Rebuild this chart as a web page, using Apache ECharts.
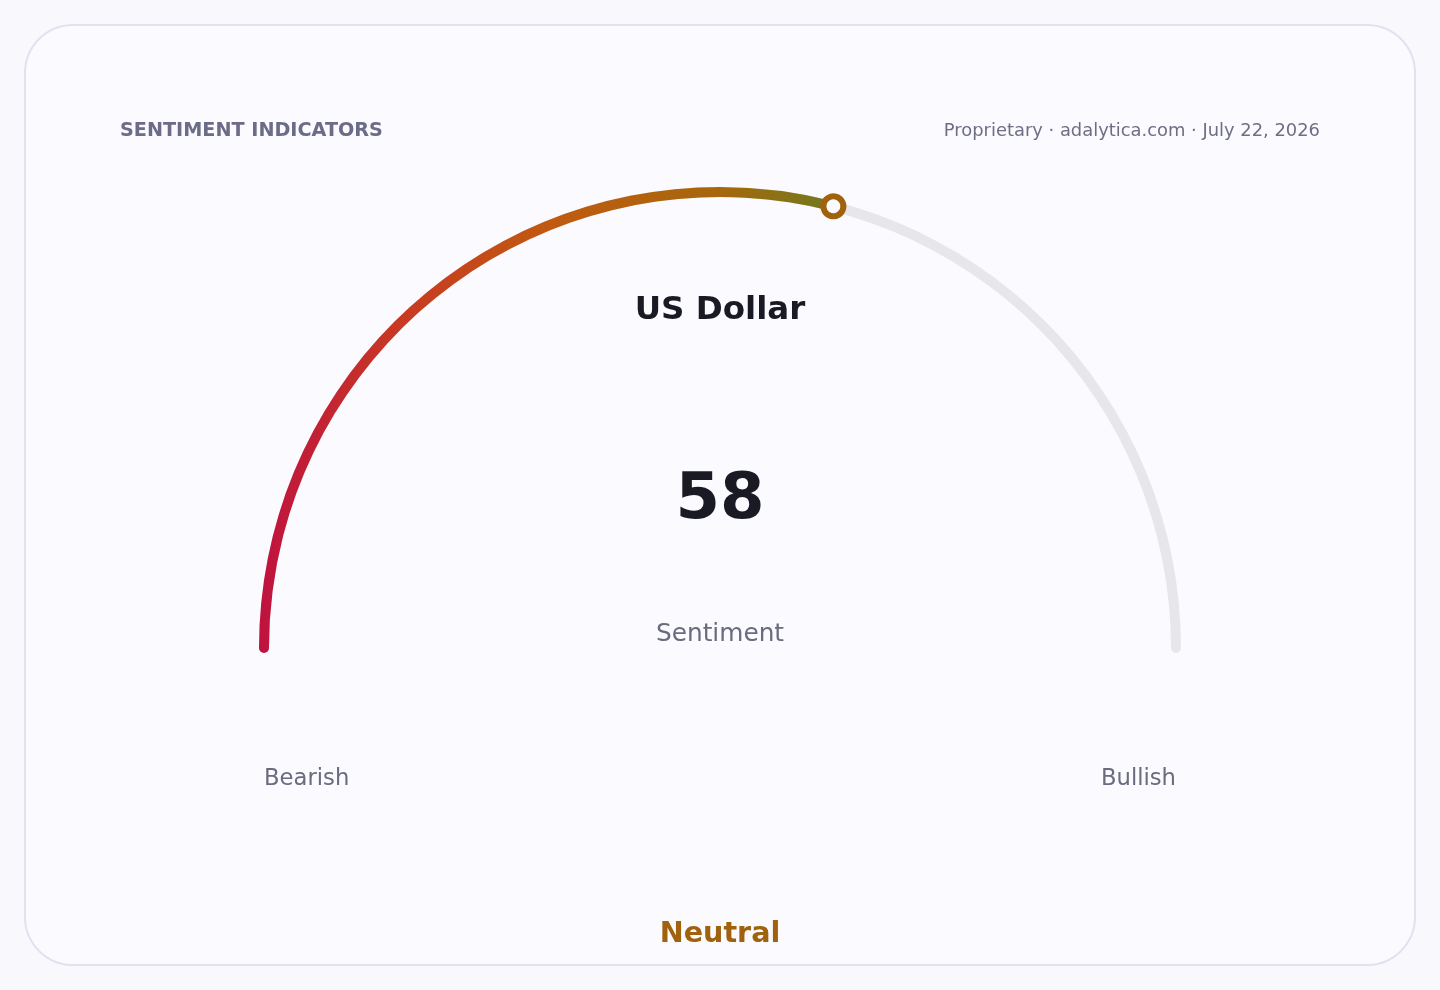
<!DOCTYPE html>
<html>
<head>
<meta charset="utf-8">
<title>Sentiment Indicators</title>
<script src="https://cdn.jsdelivr.net/npm/echarts@6/dist/echarts.min.js"></script>
<style>
  html, body { margin: 0; padding: 0; background: #f9f9fd; }
  #chart { width: 1440px; height: 990px; }
</style>
</head>
<body>
<div id="chart"></div>
<script>
const assetName = "US Dollar";
const sentimentValue = [58];
const scaleRange = [0, 100];
const endLabels = ["Bearish", "Bullish"];
const valueLabel = "Sentiment";
const verdict = "Neutral";
const headerTitle = "SENTIMENT INDICATORS";
const headerSource = "Proprietary · adalytica.com · July 22, 2026";

const font = "DejaVu Sans";
const cx = 720;
const cy = 648;
const arcWidth = 10;
const radius = 461;
const knob = 20;

const chart = echarts.init(document.getElementById("chart"));

// shared gauge geometry, arc series and knob series are drawn separately
// so the knob sits above the progress cap
const gaugeBase = {
  type: "gauge",
  center: [cx, cy],
  radius: radius,
  min: scaleRange[0],
  max: scaleRange[1],
  startAngle: 180,
  endAngle: 0,
  splitNumber: 10,
  axisTick: { show: false },
  splitLine: { show: false },
  axisLabel: { show: false },
  anchor: { show: false },
};

chart.setOption({
  backgroundColor: "#f9f9fd",
  animation: false,
  graphic: [
    {
      type: "rect",
      z: -10,
      shape: { x: 25, y: 25, width: 1390, height: 940, r: 48 },
      style: { fill: "#fafaff", stroke: "#e2e2ef", lineWidth: 2 },
    },
    {
      type: "text",
      left: 120,
      top: 122,
      style: {
        text: headerTitle,
        font: "bold 19.2px '" + font + "'",
        fill: "#6c6b88",
      },
    },
    {
      type: "text",
      right: 120,
      top: 122,
      style: {
        text: headerSource,
        font: "17.9px '" + font + "'",
        fill: "#6e6e84",
      },
    },
    {
      type: "text",
      x: cx,
      y: 635,
      style: {
        text: valueLabel,
        font: "24.8px '" + font + "'",
        fill: "#6b6b80",
        align: "center",
        verticalAlign: "middle",
      },
    },
    {
      type: "text",
      x: 264,
      y: 779,
      style: {
        text: endLabels[0],
        font: "22.7px '" + font + "'",
        fill: "#6b6b80",
        align: "left",
        verticalAlign: "middle",
      },
    },
    {
      type: "text",
      x: 1176,
      y: 779,
      style: {
        text: endLabels[1],
        font: "22.7px '" + font + "'",
        fill: "#6b6b80",
        align: "right",
        verticalAlign: "middle",
      },
    },
    {
      type: "text",
      x: cx,
      y: 935,
      style: {
        text: verdict,
        font: "bold 28.6px '" + font + "'",
        fill: "#a0620c",
        align: "center",
        verticalAlign: "middle",
      },
    },
  ],
  series: [
    {
      ...gaugeBase,
      z: 2,
      axisLine: {
        roundCap: true,
        lineStyle: {
          width: arcWidth,
          color: [[1, "#e6e6eb"]],
        },
      },
      progress: {
        show: true,
        roundCap: true,
        width: arcWidth,
        itemStyle: {
          color: new echarts.graphic.LinearGradient(0, 0, 1, 0, [
            { offset: 0, color: "#bf1240" },
            { offset: 0.25, color: "#c83a22" },
            { offset: 0.5, color: "#c05a10" },
            { offset: 0.8, color: "#a6680c" },
            { offset: 1, color: "#6e7a20" },
          ]),
        },
      },
      pointer: { show: false },
      title: {
        show: true,
        offsetCenter: [0, -337],
        fontFamily: font,
        fontSize: 32.5,
        fontWeight: "bold",
        color: "#1a1a24",
      },
      detail: {
        show: true,
        offsetCenter: [0, -146.5],
        fontFamily: font,
        fontSize: 64,
        fontWeight: "bold",
        color: "#1a1a24",
        formatter: "{value}",
      },
      data: [{ value: sentimentValue[0], name: assetName }],
    },
    {
      ...gaugeBase,
      z: 5,
      axisLine: { show: false },
      progress: { show: false },
      pointer: {
        show: true,
        icon: "circle",
        width: knob,
        length: knob,
        keepAspect: true,
        offsetCenter: [0, -(radius - arcWidth / 2) + knob / 2],
        itemStyle: {
          color: "#fafaff",
          borderColor: "#a0620c",
          borderWidth: 6,
        },
      },
      title: { show: false },
      detail: { show: false },
      data: [{ value: sentimentValue[0], name: assetName }],
    },
  ],
});
</script>
</body>
</html>
